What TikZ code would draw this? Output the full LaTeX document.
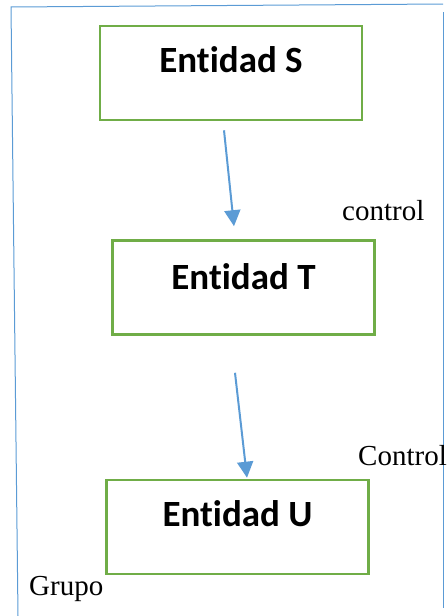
\documentclass[tikz,border=0pt]{standalone}
\usepackage{fontspec}
\setmainfont{Liberation Serif}
\newfontfamily\calibri[Ligatures=NoCommon]{Carlito}
\usepackage{tikz}
\usetikzlibrary{arrows.meta}

\definecolor{verde}{HTML}{70AD47}
\definecolor{azul}{HTML}{5B9BD5}

\begin{document}
\begin{tikzpicture}[x=1pt, y=-1pt,
    entidad/.style={draw=verde, line width=2.6pt, minimum width=262pt, minimum height=94pt,
        inner sep=0pt, font=\calibri\bfseries\fontsize{37}{40}\selectfont,
        text height=24pt, text depth=26pt},
    rotulo/.style={anchor=base west, inner sep=0pt, font=\fontsize{29}{32}\selectfont},
    flecha/.style={-{Triangle[length=16pt, width=16pt]}, azul, line width=2pt}]
    \useasboundingbox (0,0) rectangle (447,616);
    % marco del grupo
    \draw[azul, line width=1pt] (18,616) -- (11,7) -- (443,4);
    \draw[azul, line width=1pt] (443,12) -- (443,608);

    \node[entidad] (s) at (231,73) {Entidad S};
    \node[entidad, text depth=21pt] (t) at (243.5,287.5) {Entidad T};
    \node[entidad] (u) at (237.5,527) {Entidad U};

    \draw[flecha] ([xshift=-7pt, yshift=-9pt]s.south) -- ([xshift=-9.5pt, yshift=13pt]t.north);
    \draw[flecha] ([xshift=-8.5pt, yshift=-37pt]t.south) -- ([xshift=9.5pt, yshift=1pt]u.north);

    \node[rotulo] (c1) at (342,220) {control};
    \node[rotulo] (c2) at (358,465) {Control};
    \node[rotulo] (g) at (29,595) {Grupo};
\end{tikzpicture}
\end{document}
